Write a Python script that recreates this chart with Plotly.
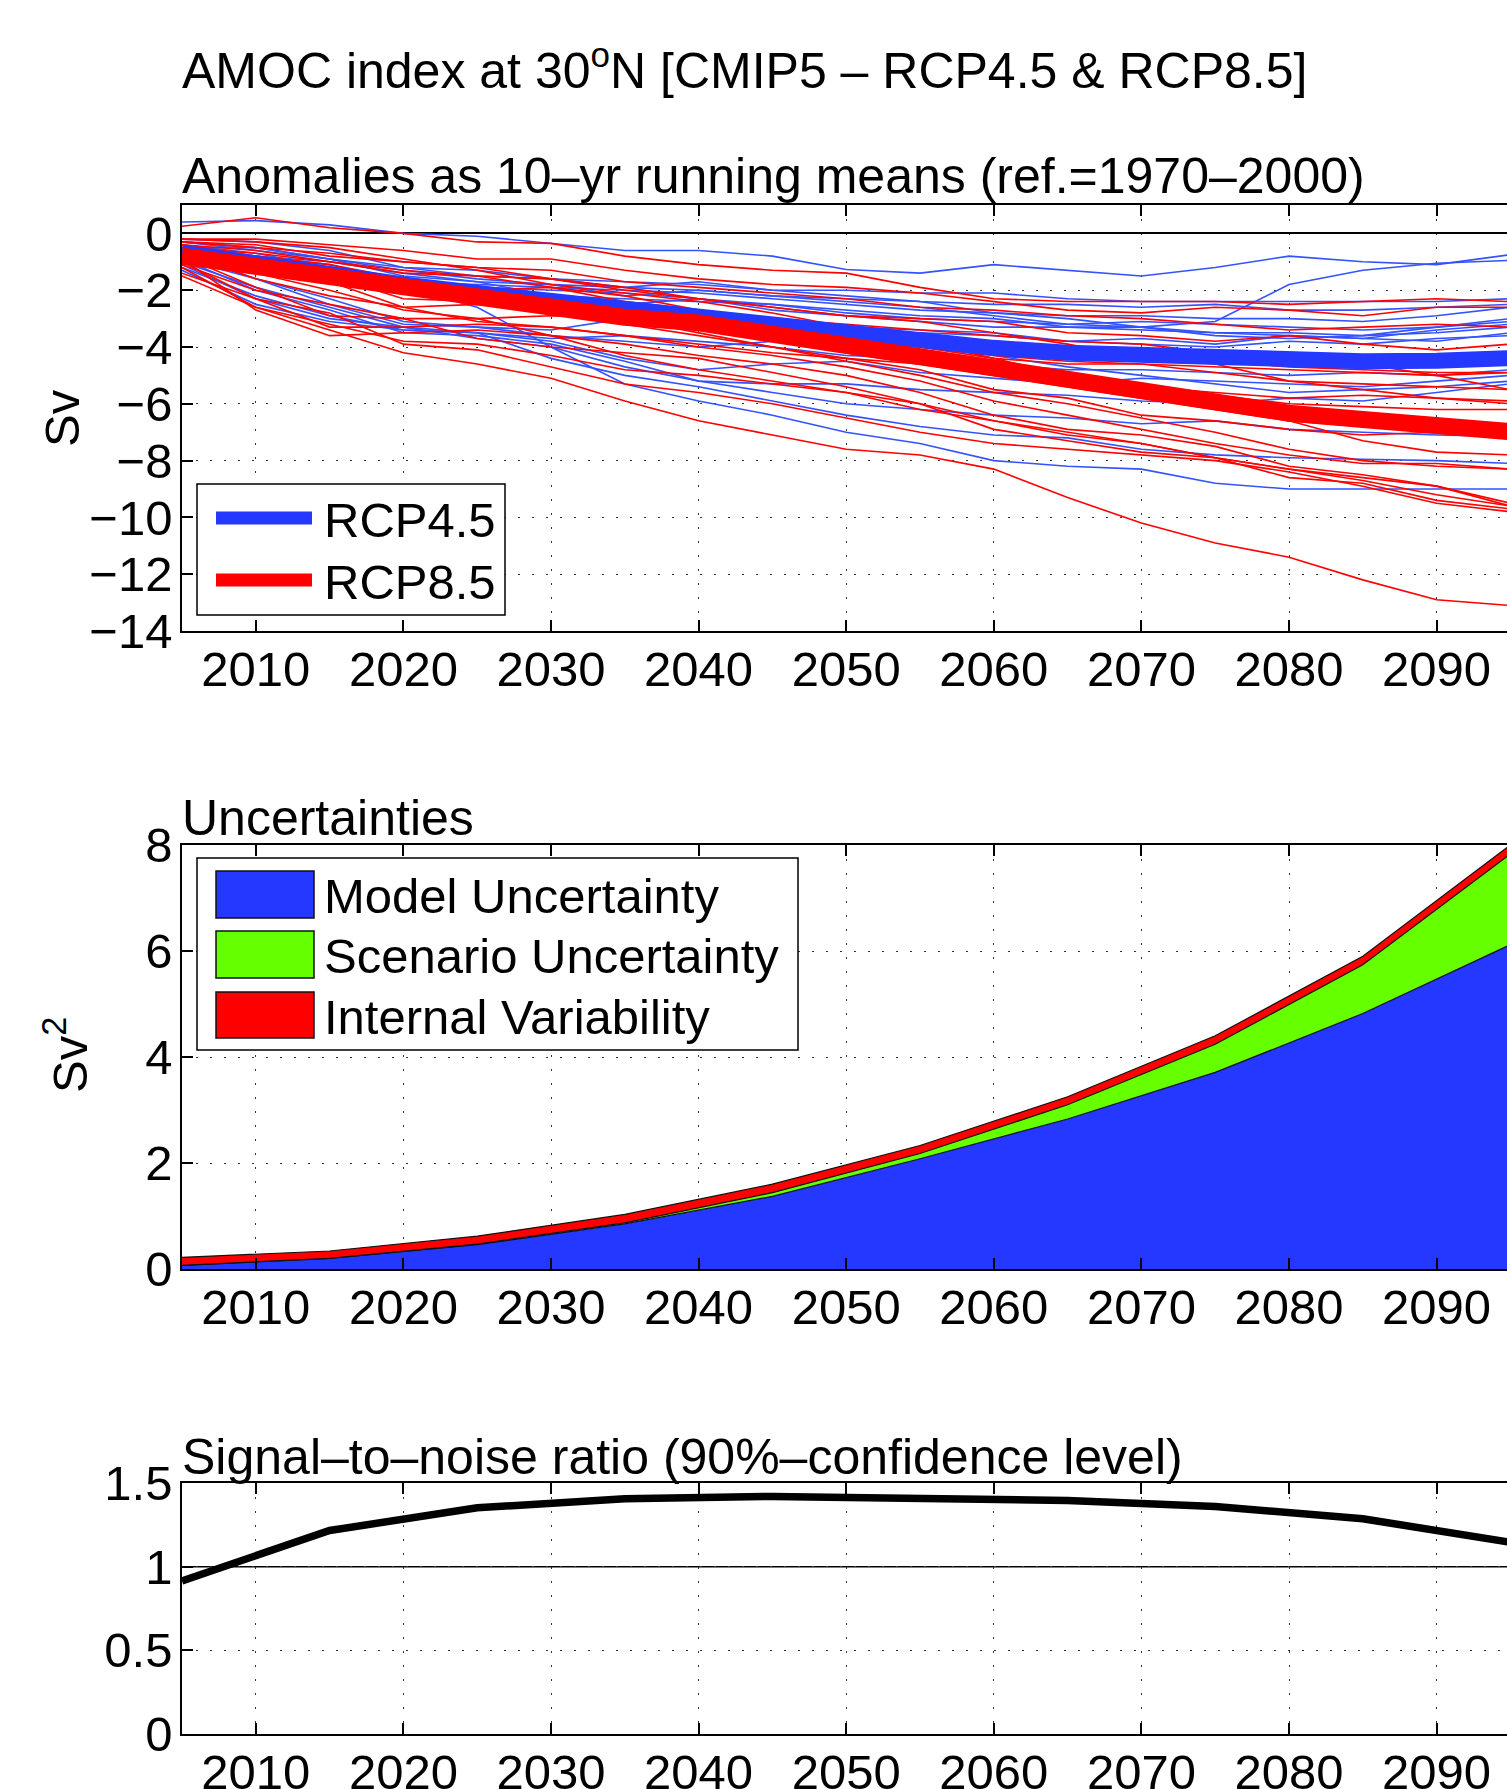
import plotly.graph_objects as go

# ---------------- data ----------------
years = [2005, 2010, 2015, 2020, 2025, 2030, 2035, 2040, 2045, 2050,
         2055, 2060, 2065, 2070, 2075, 2080, 2085, 2090, 2095]

# RCP4.5 individual models (Sv anomalies, 10-yr running means)
b01 = [0.4, 0.45, 0.3, 0.0, -0.1, -0.35, -0.6, -0.6, -0.8, -1.27, -1.4, -1.1, -1.3, -1.5, -1.2, -0.8, -1.0, -1.1, -0.75]
b02 = [-0.3, -0.5, -0.9, -1.2, -1.3, -1.6, -1.9, -2.0, -2.2, -2.4, -2.6, -2.9, -3.2, -3.3, -3.1, -1.8, -1.3, -1.05, -0.95]
b03 = [-0.2, -0.3, -0.6, -1.2, -1.5, -1.6, -1.7, -1.8, -2.0, -2.0, -2.1, -2.1, -2.3, -2.4, -2.4, -2.4, -2.4, -2.4, -2.3]
b04 = [-0.5, -0.5, -0.9, -1.5, -1.7, -1.8, -1.9, -1.7, -2.0, -2.2, -2.4, -2.5, -2.5, -2.6, -2.5, -2.7, -2.7, -2.6, -2.5]
b05 = [-0.6, -0.8, -1.1, -1.7, -1.8, -1.9, -2.0, -2.1, -2.3, -2.5, -2.7, -2.8, -2.9, -2.9, -3.0, -3.0, -3.1, -2.9, -2.6]
b06 = [-0.4, -0.7, -1.2, -1.9, -2.0, -2.2, -2.3, -2.4, -2.5, -2.8, -3.0, -3.1, -3.2, -3.1, -3.2, -3.3, -3.4, -3.3, -3.0]
b07 = [-0.8, -1.0, -1.4, -1.9, -2.1, -2.8, -2.5, -2.3, -2.7, -2.9, -3.1, -3.3, -3.3, -3.4, -3.5, -3.5, -3.6, -3.5, -3.3]
b08 = [-0.9, -1.6, -2.5, -3.2, -3.3, -3.4, -3.0, -2.7, -3.0, -3.3, -3.4, -3.5, -3.8, -3.7, -3.9, -3.6, -3.7, -3.8, -3.5]
b09 = [-0.7, -1.6, -2.3, -3.1, -3.3, -3.6, -3.8, -4.0, -3.8, -3.6, -3.5, -3.6, -3.8, -3.9, -4.0, -3.8, -3.9, -3.7, -3.6]
b10 = [-1.0, -1.9, -2.6, -3.3, -3.5, -3.7, -3.6, -3.8, -4.0, -4.3, -4.4, -4.6, -4.8, -4.8, -4.9, -5.0, -4.9, -5.0, -4.8]
b11 = [-1.2, -2.2, -2.9, -3.4, -3.5, -3.8, -4.4, -4.8, -4.6, -4.5, -4.9, -5.1, -5.3, -5.1, -5.2, -5.3, -5.4, -5.2, -5.0]
b12 = [-0.9, -2.0, -2.7, -3.5, -3.6, -3.9, -4.5, -5.2, -5.3, -5.3, -5.5, -5.6, -5.7, -5.9, -6.0, -5.8, -5.9, -5.6, -5.3]
b13 = [-1.1, -2.3, -3.0, -3.3, -3.7, -4.0, -4.7, -5.2, -5.6, -6.0, -6.2, -6.4, -6.5, -6.7, -6.6, -6.9, -7.0, -7.1, -7.15]
b14 = [-1.3, -2.5, -3.1, -3.4, -3.5, -4.4, -5.0, -5.4, -5.9, -6.4, -6.8, -7.1, -7.2, -7.6, -7.8, -7.9, -7.95, -8.0, -8.1]
b15 = [-0.6, -1.0, -1.4, -1.9, -2.6, -4.0, -5.3, -5.9, -6.4, -7.0, -7.4, -8.0, -8.2, -8.3, -8.8, -9.0, -9.0, -9.0, -9.0]
b16 = [-0.5, -0.9, -1.3, -1.7, -1.9, -2.0, -2.1, -2.3, -2.5, -2.7, -2.9, -3.0, -3.3, -3.3, -3.5, -3.6, -3.7, -3.4, -3.2]
b17 = [-0.6, -0.8, -1.0, -1.4, -1.7, -2.2, -2.6, -3.1, -3.4, -3.8, -4.0, -4.3, -4.7, -5.0, -5.3, -5.6, -5.5, -5.4, -5.2]
b18 = [-0.3, -0.6, -0.9, -1.3, -1.6, -1.8, -2.2, -2.0, -2.2, -2.3, -2.4, -2.8, -3.0, -3.3, -3.6, -3.7, -3.6, -3.3, -3.1]

# RCP8.5 individual models
r01 = [0.25, 0.55, 0.2, 0.0, -0.3, -0.35, -0.8, -1.1, -1.3, -1.4, -1.9, -2.3, -2.4, -2.4, -2.4, -2.5, -2.4, -2.3, -2.4]
r02 = [-0.2, -0.2, -0.4, -0.6, -0.9, -0.9, -1.3, -1.6, -1.8, -1.9, -2.1, -2.4, -2.7, -2.8, -2.6, -2.7, -2.9, -2.6, -2.6]
r03 = [-0.3, -0.4, -0.8, -1.0, -1.2, -1.3, -1.7, -1.9, -2.1, -2.3, -2.6, -2.7, -2.9, -3.0, -3.2, -3.4, -3.3, -3.2, -3.3]
r04 = [-0.4, -0.6, -1.0, -1.4, -1.5, -1.6, -1.9, -2.3, -2.6, -2.9, -3.0, -3.1, -3.5, -3.6, -3.8, -3.6, -3.9, -4.1, -3.9]
r05 = [-0.5, -0.9, -1.2, -1.8, -2.0, -1.9, -2.2, -2.7, -3.0, -3.3, -3.6, -3.9, -4.2, -4.3, -4.5, -4.7, -4.8, -4.9, -4.9]
r06 = [-0.6, -1.2, -1.5, -2.3, -2.4, -2.3, -2.5, -2.8, -3.3, -3.7, -4.0, -4.4, -4.6, -4.6, -4.9, -5.2, -5.3, -5.4, -5.5]
r07 = [-0.7, -1.6, -2.2, -2.6, -2.5, -2.6, -2.8, -3.2, -3.6, -4.0, -4.3, -4.7, -5.0, -5.4, -5.6, -5.8, -5.7, -5.8, -5.9]
r08 = [-0.8, -1.9, -2.9, -3.0, -3.0, -2.9, -3.0, -3.5, -4.0, -4.4, -4.8, -5.5, -5.8, -6.4, -6.6, -6.9, -7.1, -7.0, -7.1]
r09 = [-1.0, -2.3, -3.3, -3.3, -3.2, -3.3, -3.6, -4.0, -4.3, -4.7, -5.2, -5.9, -6.4, -6.9, -7.4, -7.8, -8.1, -8.1, -8.3]
r10 = [-0.9, -2.7, -3.6, -3.5, -3.4, -3.6, -3.9, -4.3, -4.6, -5.0, -5.6, -6.4, -6.9, -7.1, -7.5, -8.2, -8.5, -8.9, -9.5]
r11 = [-1.1, -2.0, -2.5, -3.0, -3.7, -4.0, -4.2, -4.4, -4.9, -5.4, -6.0, -6.6, -7.1, -7.4, -7.9, -8.3, -8.7, -9.2, -9.6]
r12 = [-1.2, -2.6, -3.2, -3.8, -3.9, -4.3, -4.8, -5.0, -5.3, -5.6, -6.0, -6.9, -7.3, -7.7, -7.9, -8.6, -8.8, -9.4, -9.7]
r13 = [-1.4, -2.3, -2.8, -3.9, -4.1, -4.7, -5.3, -5.6, -6.0, -6.5, -7.0, -7.4, -7.6, -7.8, -8.0, -8.4, -8.9, -9.5, -9.8]
r14 = [-1.5, -2.6, -3.4, -4.2, -4.6, -5.1, -5.9, -6.6, -7.1, -7.6, -7.8, -8.3, -9.3, -10.2, -10.9, -11.4, -12.2, -12.9, -13.1]
r15 = [-0.4, -0.8, -1.1, -1.6, -2.0, -2.3, -2.6, -3.0, -3.3, -3.7, -4.0, -4.3, -4.5, -4.6, -4.7, -4.8, -4.9, -5.0, -5.5]
r16 = [-0.5, -0.9, -1.4, -1.9, -2.3, -2.7, -3.0, -3.3, -3.7, -4.2, -4.6, -5.0, -5.4, -5.8, -6.2, -6.6, -6.8, -7.0, -7.1]
r17 = [-0.6, -1.0, -1.7, -2.6, -3.1, -3.3, -3.6, -3.9, -4.2, -4.4, -4.6, -4.9, -5.1, -5.4, -5.7, -6.0, -6.1, -6.2, -6.2]
r18 = [-0.3, -0.5, -0.7, -1.0, -1.2, -1.6, -2.0, -2.3, -2.6, -2.9, -3.1, -3.5, -3.9, -4.4, -4.6, -5.2, -5.5, -5.8, -6.0]
r19 = [-0.8, -1.4, -2.0, -2.7, -3.0, -3.6, -4.3, -4.8, -5.2, -5.6, -6.2, -6.6, -7.0, -7.4, -7.9, -8.3, -8.6, -8.9, -9.6]
r20 = [-0.7, -1.1, -1.5, -2.0, -2.3, -2.7, -3.2, -3.6, -4.0, -4.5, -5.0, -5.6, -6.0, -6.5, -7.0, -7.6, -8.0, -8.2, -8.3]
r21 = [-0.2, -0.3, -0.5, -0.9, -1.3, -1.8, -2.1, -2.4, -2.8, -3.3, -3.8, -4.4, -5.0, -5.5, -6.1, -6.6, -7.3, -7.7, -7.8]
r22 = [-0.5, -0.7, -1.0, -1.3, -1.5, -1.9, -2.4, -2.7, -3.0, -3.2, -3.4, -3.6, -3.8, -3.9, -4.2, -4.4, -4.6, -5.0, -4.9]

rcp45_runs = [b01, b02, b03, b04, b05, b06, b07, b08, b09, b10, b11, b12, b13, b14, b15, b16, b17, b18]
rcp85_runs = [r01, r02, r03, r04, r05, r06, r07, r08, r09, r10, r11, r12, r13, r14, r15, r16, r17, r18, r19, r20, r21, r22]

# multi-model means
rcp45_mean = [-0.68, -1.09, -1.45, -1.8, -2.1, -2.39, -2.68, -2.92, -3.2, -3.5, -3.8, -4.03, -4.2, -4.29, -4.38, -4.48, -4.5, -4.48, -4.39]
rcp85_mean = [-0.8, -1.15, -1.55, -1.94, -2.28, -2.62, -2.95, -3.15, -3.55, -3.92, -4.35, -4.74, -5.2, -5.62, -5.98, -6.33, -6.55, -6.74, -6.98]

# uncertainties (Sv^2), decadal
dec_years = [2005, 2015, 2025, 2035, 2045, 2055, 2065, 2075, 2085, 2095]
model_unc = [0.07, 0.20, 0.46, 0.85, 1.37, 2.08, 2.83, 3.71, 4.82, 6.12]
scenario_unc = [0.0, 0.0, 0.01, 0.02, 0.07, 0.10, 0.27, 0.53, 0.92, 1.71]
internal_var = [0.15, 0.14, 0.15, 0.16, 0.16, 0.15, 0.15, 0.16, 0.16, 0.17]

# signal-to-noise ratio
snr = [0.915, 1.216, 1.352, 1.406, 1.42, 1.412, 1.396, 1.36, 1.286, 1.146]

year_ticks = [2010, 2020, 2030, 2040, 2050, 2060, 2070, 2080, 2090]

# ---------------- styling ----------------
W, H = 1507, 1789
FONT = "Liberation Sans, Arial, Helvetica, sans-serif"
FS = 49
BLUE = "#2438FF"
THIN_BLUE = "#3452FF"
RED = "#FF0000"
GREEN = "#66FF00"


def px(x):
    return x / W


def py(y):
    return 1 - y / H


fig = go.Figure()

for run in rcp45_runs:
    fig.add_trace(go.Scatter(x=years, y=run, mode="lines", line=dict(color=THIN_BLUE, width=1.6),
                             showlegend=False, xaxis="x", yaxis="y", hoverinfo="skip"))
for run in rcp85_runs:
    fig.add_trace(go.Scatter(x=years, y=run, mode="lines", line=dict(color=RED, width=1.6),
                             showlegend=False, xaxis="x", yaxis="y", hoverinfo="skip"))
fig.add_trace(go.Scatter(x=years, y=rcp45_mean, mode="lines", line=dict(color=BLUE, width=16),
                         name="RCP4.5", showlegend=False, xaxis="x", yaxis="y"))
fig.add_trace(go.Scatter(x=years, y=rcp85_mean, mode="lines", line=dict(color=RED, width=17),
                         name="RCP8.5", showlegend=False, xaxis="x", yaxis="y"))

# stacked uncertainties
fig.add_trace(go.Scatter(x=dec_years, y=model_unc, mode="lines", stackgroup="u", fillcolor=BLUE,
                         line=dict(color="#111111", width=1.2), name="Model Uncertainty",
                         showlegend=False, xaxis="x2", yaxis="y2"))
fig.add_trace(go.Scatter(x=dec_years, y=scenario_unc, mode="lines", stackgroup="u", fillcolor=GREEN,
                         line=dict(color="#111111", width=1.2), name="Scenario Uncertainty",
                         showlegend=False, xaxis="x2", yaxis="y2"))
fig.add_trace(go.Scatter(x=dec_years, y=internal_var, mode="lines", stackgroup="u", fillcolor=RED,
                         line=dict(color="#111111", width=1.2), name="Internal Variability",
                         showlegend=False, xaxis="x2", yaxis="y2"))

# signal to noise
fig.add_trace(go.Scatter(x=dec_years, y=snr, mode="lines", line=dict(color="black", width=7.5),
                         showlegend=False, xaxis="x3", yaxis="y3"))

xdom = [px(182), 1.0]
dom1 = [py(631), py(205)]
dom2 = [py(1269), py(845)]
dom3 = [py(1734), py(1483)]
XR = [2005, 2094.77]

grid = dict(showgrid=True, gridcolor="#333333", gridwidth=1.3, griddash="2px,12px")
common_x = dict(range=XR, tickvals=year_ticks, ticks="inside", ticklen=11, tickwidth=1.5,
                tickcolor="black", showline=True, linecolor="black", linewidth=1.5,
                mirror="ticks", zeroline=False, tickfont=dict(size=FS, color="black"),
                ticklabelstandoff=-6, automargin=False, **grid)
common_y = dict(ticks="inside", ticklen=11, tickwidth=1.5, tickcolor="black", showline=True,
                linecolor="black", linewidth=1.5, tickfont=dict(size=FS, color="black"),
                ticklabelstandoff=-2, automargin=False, **grid)
right_y = dict(ticks="inside", ticklen=11, tickwidth=1.5, tickcolor="black", showline=False,
               showgrid=False, zeroline=False, showticklabels=False, side="right",
               automargin=False)

fig.update_layout(
    width=W, height=H, autosize=False,
    margin=dict(l=0, r=0, t=0, b=0, pad=0, autoexpand=False),
    paper_bgcolor="white", plot_bgcolor="white",
    font=dict(family=FONT, size=FS, color="black"),
    showlegend=False,
    xaxis=dict(domain=xdom, anchor="y", **common_x),
    yaxis=dict(domain=dom1, anchor="x", range=[-14, 1],
               tickvals=[-14, -12, -10, -8, -6, -4, -2, 0],
               zeroline=True, zerolinecolor="black", zerolinewidth=1.5, **common_y),
    xaxis2=dict(domain=xdom, anchor="y2", **common_x),
    yaxis2=dict(domain=dom2, anchor="x2", range=[0, 8], tickvals=[0, 2, 4, 6, 8],
                zeroline=False, **common_y),
    xaxis3=dict(domain=xdom, anchor="y3", **common_x),
    yaxis3=dict(domain=dom3, anchor="x3", range=[0, 1.5], tickvals=[0, 0.5, 1, 1.5],
                ticktext=["0", "0.5", "1", "1.5"], zeroline=False, **common_y),
    yaxis4=dict(overlaying="y", anchor="x", range=[-14, 1],
                tickvals=[-14, -12, -10, -8, -6, -4, -2, 0], **right_y),
    yaxis5=dict(overlaying="y2", anchor="x2", range=[0, 8], tickvals=[0, 2, 4, 6, 8], **right_y),
    yaxis6=dict(overlaying="y3", anchor="x3", range=[0, 1.5], tickvals=[0, 0.5, 1, 1.5], **right_y),
)

# threshold line at SNR = 1
fig.add_shape(type="line", xref="x3 domain", yref="y3", x0=0, x1=1, y0=1, y1=1,
              line=dict(color="black", width=1.5), layer="below")

ann = []


def text(x, y, s, size=FS, anchor="left", angle=0):
    ann.append(dict(x=px(x), y=py(y), xref="paper", yref="paper", text=s, showarrow=False,
                    xanchor=anchor, yanchor="middle", textangle=angle,
                    font=dict(size=size, color="black", family=FONT)))


text(180, 67, "AMOC index at 30<sup>o</sup>N [CMIP5 – RCP4.5 &amp; RCP8.5]", size=50)
text(180, 176, "Anomalies as 10–yr running means (ref.=1970–2000)", size=50)
text(180, 818, "Uncertainties", size=50)
text(180, 1457, "Signal–to–noise ratio (90%–confidence level)", size=50)
text(62, 418, "Sv", anchor="center", angle=-90)
text(66, 1055, "Sv<sup>2</sup>", anchor="center", angle=-90)

# legend 1
shapes = []
shapes.append(dict(type="rect", xref="paper", yref="paper", x0=px(197), x1=px(505), y0=py(615), y1=py(484),
                   line=dict(color="black", width=1.5), fillcolor="white", layer="above"))
shapes.append(dict(type="line", xref="paper", yref="paper", x0=px(216), x1=px(312), y0=py(518), y1=py(518),
                   line=dict(color=BLUE, width=13), layer="above"))
shapes.append(dict(type="line", xref="paper", yref="paper", x0=px(216), x1=px(312), y0=py(580), y1=py(580),
                   line=dict(color=RED, width=13), layer="above"))
text(322, 520, "RCP4.5")
text(322, 582, "RCP8.5")

# legend 2
shapes.append(dict(type="rect", xref="paper", yref="paper", x0=px(197), x1=px(798), y0=py(1050), y1=py(858),
                   line=dict(color="black", width=1.5), fillcolor="white", layer="above"))
for (y0, y1, c) in [(871, 918, BLUE), (931, 978, GREEN), (992, 1038, RED)]:
    shapes.append(dict(type="rect", xref="paper", yref="paper", x0=px(216), x1=px(314), y0=py(y1), y1=py(y0),
                       line=dict(color="#111111", width=1.5), fillcolor=c, layer="above"))
text(322, 896, "Model Uncertainty")
text(322, 956, "Scenario Uncertainty")
text(322, 1017, "Internal Variability")

fig.update_layout(annotations=ann)
for s in shapes:
    fig.add_shape(**s)

fig.write_html("out.html")
